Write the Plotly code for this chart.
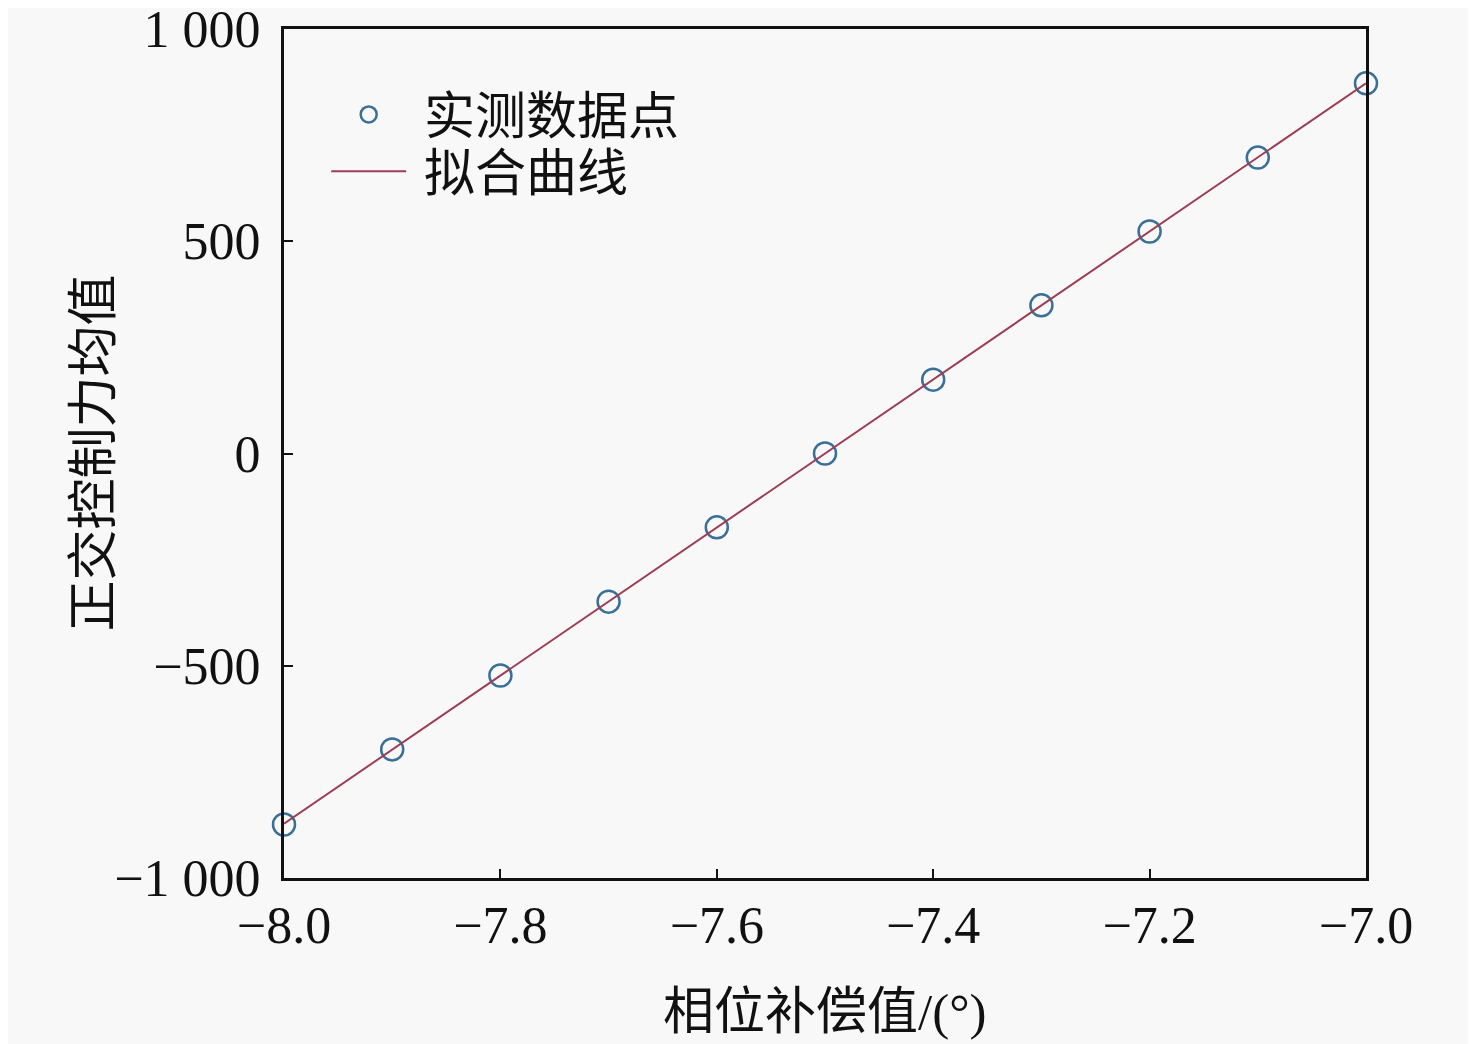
import plotly.graph_objects as go

# ── Data ──────────────────────────────────────────────────────────────────────
phase = [-8.0, -7.9, -7.8, -7.7, -7.6, -7.5, -7.4, -7.3, -7.2, -7.1, -7.0]
force = [-874, -697, -523, -349, -174, 0, 174, 349, 523, 697, 872]
fit_x = [-8.0, -7.0]
fit_y = [-872, 872]

x_ticks = [-8.0, -7.8, -7.6, -7.4, -7.2, -7.0]
x_labels = ["\u22128.0", "\u22127.8", "\u22127.6", "\u22127.4", "\u22127.2", "\u22127.0"]
y_ticks = [-1000, -500, 0, 500, 1000]
y_labels = ["\u22121 000", "\u2212500", "0", "500", "1 000"]

SERIF = "Liberation Serif, Times New Roman, serif"
CJK = "Liberation Serif, Noto Sans CJK SC, serif"
BG = "#f8f8f8"

# ── Figure ────────────────────────────────────────────────────────────────────
fig = go.Figure()

# nbsp in front of names pushes legend text away from the symbol
fig.add_trace(go.Scatter(
    x=phase, y=force, mode="markers", name="\u00a0实测数据点", legend="legend",
    cliponaxis=False,
    marker=dict(symbol="circle-open", size=22, color="#3a6f98",
                line=dict(width=2.5, color="#3a6f98")),
))
fig.add_trace(go.Scatter(
    x=fit_x, y=fit_y, mode="lines", name="\u00a0拟合曲线", legend="legend2",
    cliponaxis=False,
    line=dict(color="#9c3d55", width=2),
))

legend_style = dict(xanchor="left", yanchor="middle", bgcolor="rgba(0,0,0,0)",
                    font=dict(family=CJK, size=51), itemwidth=75)

fig.update_layout(
    width=1476, height=1044,
    paper_bgcolor=BG, plot_bgcolor=BG,
    margin=dict(l=276, r=118, t=21, b=174, autoexpand=False),
    font=dict(family=CJK, size=50, color="#111"),
    showlegend=True,
    legend=dict(x=0.039, y=0.899, **legend_style),
    legend2=dict(x=0.039, y=0.832, **legend_style),
    annotations=[
        dict(text="正交控制力均值", xref="paper", yref="paper", x=-0.1765, y=0.5,
             xanchor="center", yanchor="middle", textangle=-90, showarrow=False,
             font=dict(family=CJK, size=51, color="#111")),
        dict(text="相位补偿值/(°)", xref="paper", yref="paper", x=0.5, y=-0.158,
             xanchor="center", yanchor="middle", showarrow=False,
             font=dict(family=CJK, size=51, color="#111")),
    ],
)

fig.update_xaxes(
    range=[-8.0, -7.0], tickvals=x_ticks, ticktext=x_labels,
    ticks="inside", ticklen=9, tickwidth=2, tickcolor="#111",
    showline=True, linecolor="#111", linewidth=3, mirror=True,
    showgrid=False, zeroline=False, ticklabeloverflow="allow",
    automargin=False,
    tickfont=dict(family=SERIF, size=52),
)
fig.update_yaxes(
    range=[-1000, 1000], tickvals=y_ticks, ticktext=y_labels,
    ticks="inside", ticklen=9, tickwidth=2, tickcolor="#111",
    showline=True, linecolor="#111", linewidth=3, mirror=True,
    showgrid=False, zeroline=False, ticklabelstandoff=10,
    ticklabeloverflow="allow", automargin=False,
    tickfont=dict(family=SERIF, size=52),
)

fig.write_html("out.html")
